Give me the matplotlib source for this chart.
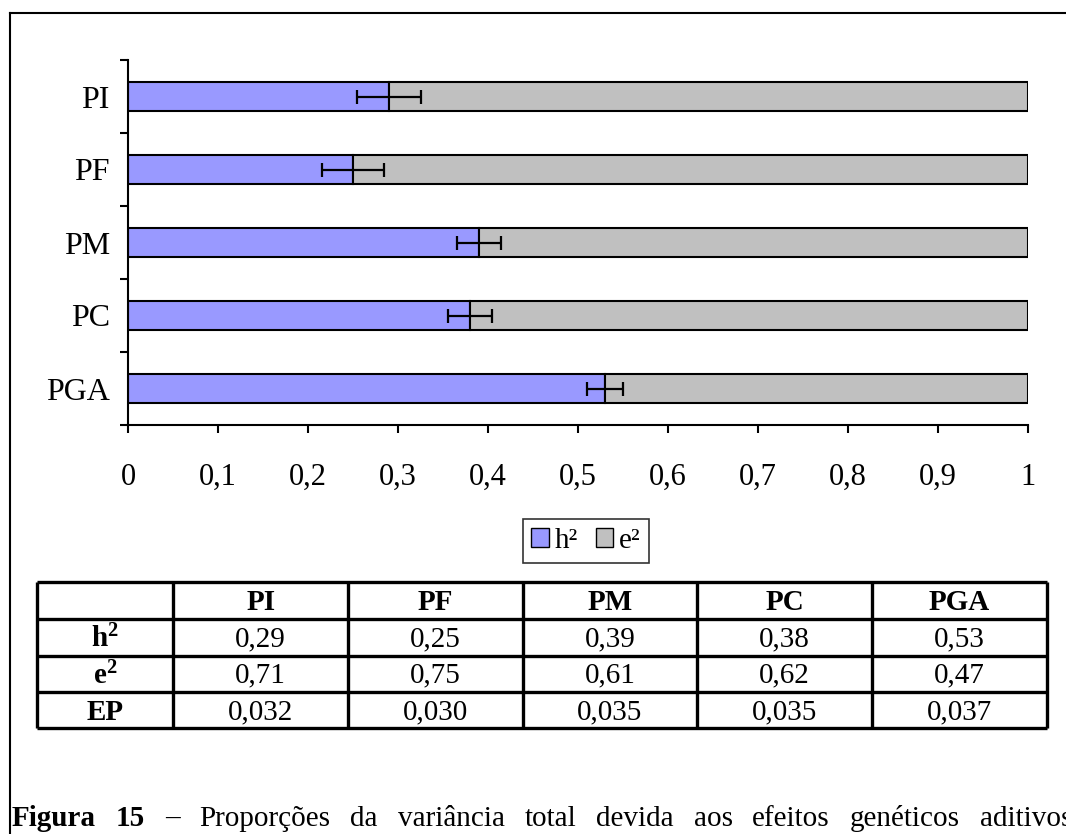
import matplotlib
matplotlib.use('Agg')
import matplotlib.pyplot as plt
from matplotlib.patches import Patch
from matplotlib.ticker import FuncFormatter
import numpy as np

# data
categories = ['PI', 'PF', 'PM', 'PC', 'PGA']
h2 = [0.29, 0.25, 0.39, 0.38, 0.53]
e2 = [0.71, 0.75, 0.61, 0.62, 0.47]
ep = ['0,032', '0,030', '0,035', '0,035', '0,037']
err = [0.036, 0.034, 0.024, 0.024, 0.020]   # half-width of the drawn error bars
xticks = np.round(np.arange(0, 1.01, 0.1), 1)

caption_bold = ['Figura', '15']
caption_rest = '– Proporções da variância total devida aos efeitos genéticos aditivos'.split()

plt.rcParams['font.family'] = ['Liberation Serif', 'DejaVu Serif']
plt.rcParams['mathtext.fontset'] = 'custom'
plt.rcParams['mathtext.rm'] = 'Liberation Serif'
plt.rcParams['mathtext.bf'] = 'Liberation Serif:bold'

W, H = 1066, 834
fig = plt.figure(figsize=(W / 100, H / 100), dpi=100)

# background axes in pixel units: frame, table, caption
bg = fig.add_axes([0, 0, 1, 1])
bg.set_xlim(0, W)
bg.set_ylim(H, 0)
bg.axis('off')

bg.plot([10, W + 5], [13, 13], color='black', lw=1.5, clip_on=False)
bg.plot([10, 10], [13, H + 5], color='black', lw=1.5, clip_on=False)

# chart
ax = fig.add_axes([128 / W, 1 - 425 / H, 900 / W, 365 / H])
ax.patch.set_alpha(0)
y = np.arange(len(categories))
ax.barh(y, h2, height=0.4, color='#9999FF', edgecolor='black', linewidth=1.5, zorder=2)
ax.barh(y, e2, left=h2, height=0.4, color='#C0C0C0', edgecolor='black', linewidth=1.5, zorder=2)
ax.errorbar(h2, y, xerr=err, fmt='none', ecolor='black', elinewidth=1.6,
            capsize=5, capthick=1.6, zorder=3)
ax.set_xlim(0, 1)
ax.set_ylim(len(categories) - 0.5, -0.5)

for s in ['top', 'right']:
    ax.spines[s].set_visible(False)
for s in ['left', 'bottom']:
    ax.spines[s].set_linewidth(1.5)

ax.set_yticks(y)
ax.set_yticklabels(categories)
ax.set_yticks(np.arange(-0.5, len(categories), 1), minor=True)
ax.tick_params(axis='y', which='major', length=0, pad=13, labelsize=23)
ax.tick_params(axis='y', which='minor', length=5.5, width=1.5, direction='out')

ax.set_xticks(xticks)
ax.xaxis.set_major_formatter(FuncFormatter(
    lambda v, p: ('%g' % v).replace('.', ',')))
ax.tick_params(axis='x', length=6, width=1.5, direction='out', pad=21, labelsize=22)

# legend
handles = [Patch(facecolor='#9999FF', edgecolor='black', label='h²'),
           Patch(facecolor='#C0C0C0', edgecolor='black', label='e²')]
leg = fig.legend(handles=handles, loc='center', bbox_to_anchor=(586 / W, 1 - 541 / H),
                 ncol=2, frameon=True, fancybox=False, edgecolor='black', fontsize=21,
                 handlelength=0.6, handleheight=0.6, handletextpad=0.2,
                 columnspacing=0.6, borderpad=0.3, borderaxespad=0)
leg.get_frame().set_linewidth(1.2)

# table
col_edges = [36.7, 173.3] + [173.3 + 174.7 * (i + 1) for i in range(len(categories))]
row_edges = [582, 619, 655.5, 692, 728]
bg.hlines(row_edges, col_edges[0], col_edges[-1], color='black', lw=2.4)
bg.vlines(col_edges, row_edges[0], row_edges[-1], color='black', lw=2.4)

row_labels = [r'$\mathbf{h^2}$', r'$\mathbf{e^2}$', 'EP']
rows = [[('%.2f' % v).replace('.', ',') for v in h2],
        [('%.2f' % v).replace('.', ',') for v in e2],
        ep]
ymid = [(row_edges[i] + row_edges[i + 1]) / 2 for i in range(len(row_edges) - 1)]
xmid = [(col_edges[i] + col_edges[i + 1]) / 2 for i in range(len(col_edges) - 1)]

for j, c in enumerate(categories):
    bg.text(xmid[j + 1], ymid[0] + 2, c, ha='center', va='center',
            fontsize=21, fontweight='bold')
for i, lab in enumerate(row_labels):
    bg.text(xmid[0], ymid[i + 1] + 2, lab, ha='center', va='center',
            fontsize=21, fontweight='bold')
    for j, val in enumerate(rows[i]):
        bg.text(xmid[j + 1], ymid[i + 1] + 2, val, ha='center', va='center', fontsize=21)

# justified caption, running off the right edge as in the source page
renderer = fig.canvas.get_renderer()
texts = []
for w in caption_bold:
    texts.append(bg.text(0, 826, w, fontsize=21, fontweight='bold', va='baseline'))
for w in caption_rest:
    texts.append(bg.text(0, 826, w, fontsize=21, va='baseline'))
widths = [t.get_window_extent(renderer).width for t in texts]
x0, x1 = 12, 1072
gap = (x1 - x0 - sum(widths)) / (len(texts) - 1)
x = x0
for t, wd in zip(texts, widths):
    t.set_x(x)
    x += wd + gap

fig.savefig('out.png', dpi=100)
